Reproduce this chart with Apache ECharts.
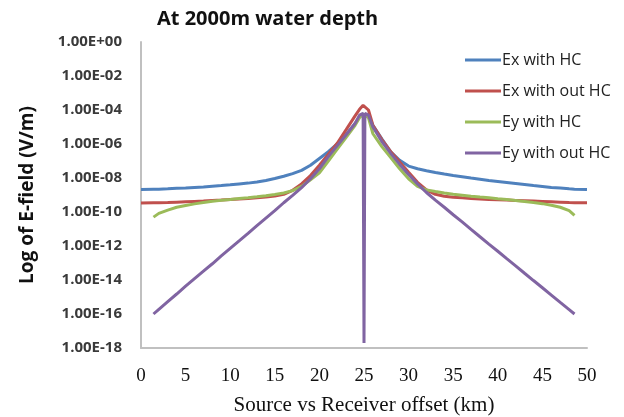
<!DOCTYPE html>
<html>
<head>
<meta charset="utf-8">
<script src="https://cdn.jsdelivr.net/npm/echarts@6/dist/echarts.min.js"></script>
<style>
html,body{margin:0;padding:0;background:#fff;}
#chart{width:624px;height:417px;}
</style>
</head>
<body>
<div id="chart"></div>
<script>
// offsets (km) shared by all series
var offsets = [0, 1.4, 2, 3, 4, 5, 6, 7, 8, 9, 10, 11, 12, 13, 14, 15, 16, 17, 18, 19, 20, 21, 22, 23, 24,
	24.5, 24.9, 25, 25.1, 25.5,
	26, 27, 28, 29, 30, 31, 32, 33, 34, 35, 36, 37, 38, 39, 40, 41, 42, 43, 44, 45, 46, 47, 48, 48.6, 50];

var exWithHC = [2.1e-9, 2.2e-9, 2.2e-9, 2.3e-9, 2.5e-9, 2.6e-9, 2.8e-9, 3.0e-9, 3.3e-9, 3.6e-9, 4.0e-9, 4.5e-9, 5.0e-9, 5.9e-9, 7.2e-9, 9.3e-9, 1.26e-8, 1.8e-8, 2.8e-8, 5.6e-8, 1.4e-7, 3.5e-7, 1e-6, 3.5e-6, 1.6e-5,
	4e-5, 5.8e-5, 6.3e-5, 5.8e-5, 4e-5,
	1.26e-5, 2e-6, 3.5e-7, 1.1e-7, 5e-8, 3.5e-8, 2.7e-8, 2.1e-8, 1.7e-8, 1.4e-8, 1.2e-8, 1e-8, 8.5e-9, 7.2e-9, 6.3e-9, 5.5e-9, 4.8e-9, 4.2e-9, 3.6e-9, 3.2e-9, 2.8e-9, 2.6e-9, 2.3e-9, 2.2e-9, 2.1e-9];

var exWithoutHC = [3.4e-10, 3.5e-10, 3.5e-10, 3.6e-10, 3.8e-10, 4e-10, 4.2e-10, 4.4e-10, 4.7e-10, 5e-10, 5.4e-10, 5.8e-10, 6.3e-10, 6.9e-10, 7.6e-10, 8.7e-10, 1.1e-9, 1.9e-9, 4.5e-9, 1.4e-8, 5.6e-8, 2.5e-7, 1.1e-6, 7e-6, 4.5e-5,
	1.1e-4, 1.9e-4, 2e-4, 1.9e-4, 1e-4,
	1.26e-5, 1.8e-6, 3.5e-7, 8.9e-8, 2.2e-8, 5.6e-9, 2e-9, 1.1e-9, 8.5e-10, 7.4e-10, 6.8e-10, 6.3e-10, 5.9e-10, 5.5e-10, 5.2e-10, 5e-10, 4.8e-10, 4.6e-10, 4.4e-10, 4.2e-10, 4e-10, 3.8e-10, 3.6e-10, 3.5e-10, 3.5e-10];

var eyWithHC = [null, 5e-11, 8.3e-11, 1.3e-10, 1.9e-10, 2.4e-10, 3e-10, 3.6e-10, 4.3e-10, 4.9e-10, 5.5e-10, 6.2e-10, 6.9e-10, 7.9e-10, 9.1e-10, 1.07e-9, 1.3e-9, 1.8e-9, 3.2e-9, 7.9e-9, 2e-8, 1e-7, 5e-7, 2.5e-6, 1.26e-5,
	3.5e-5, 5.8e-5, 6.3e-5, 5.8e-5, 3.5e-5,
	4e-6, 7e-7, 1.6e-7, 3.5e-8, 8.9e-9, 3.2e-9, 2e-9, 1.6e-9, 1.3e-9, 1.1e-9, 9.8e-10, 8.5e-10, 7.6e-10, 6.8e-10, 6e-10, 5.4e-10, 4.8e-10, 4.2e-10, 3.6e-10, 3.1e-10, 2.5e-10, 1.9e-10, 1.2e-10, 6.3e-11, null];

var eyWithoutHC = [null, 1e-16, 1.9e-16, 5.4e-16, 1.5e-15, 4.3e-15, 1.2e-14, 3.3e-14, 9e-14, 2.6e-13, 7.2e-13, 2e-12, 5.6e-12, 1.6e-11, 4.4e-11, 1.2e-10, 3.5e-10, 9.5e-10, 2.7e-9, 9e-9, 3.5e-8, 1.8e-7, 8e-7, 3.5e-6, 1.6e-5,
	5e-5, 6.3e-5, 2e-18, 6.3e-5, 5e-5,
	1e-5, 1.4e-6, 2.8e-7, 6.3e-8, 1.6e-8, 4.5e-9, 1.4e-9, 5e-10, 1.9e-10, 6.9e-11, 2.6e-11, 9.5e-12, 3.5e-12, 1.3e-12, 4.9e-13, 1.8e-13, 6.8e-14, 2.5e-14, 9.3e-15, 3.5e-15, 1.3e-15, 4.8e-16, 1.8e-16, 1e-16, null];

var seriesNames = ['Ex with HC', 'Ex with out HC', 'Ey with HC', 'Ey with out HC'];
var seriesColors = ['#4F81BD', '#C0504D', '#9BBB59', '#8064A2'];

function pairs(vals){
	var out = [];
	for (var i = 0; i < offsets.length; i++) {
		if (vals[i] != null) out.push([offsets[i], vals[i]]);
	}
	return out;
}

function sciLabel(v){
	var e = Math.round(Math.log10(v));
	var s = e < 0 ? '-' : '+';
	var a = Math.abs(e);
	return '1.00E' + s + (a < 10 ? '0' + a : '' + a);
}

window.onload = () => {
	var myChart = echarts.init(document.getElementById('chart'), null, {renderer: 'canvas'});

	var allVals = [exWithHC, exWithoutHC, eyWithHC, eyWithoutHC];
	var series = [];
	for (var i = 0; i < allVals.length; i++) {
		series.push({
			name: seriesNames[i],
			type: 'line',
			data: pairs(allVals[i]),
			showSymbol: false,
			symbol: 'none',
			lineStyle: {width: 3, color: seriesColors[i]},
			itemStyle: {color: seriesColors[i]}
		});
	}

	var option = {
		animation: false,
		backgroundColor: '#fff',
		title: {
			text: 'At 2000m water depth',
			left: 152,
			top: 4,
			textStyle: {fontFamily: 'Open Sans', fontWeight: 'bold', fontSize: 20, color: '#111'}
		},
		legend: {
			orient: 'vertical',
			left: 460,
			top: 46,
			itemWidth: 36,
			itemHeight: 3,
			itemGap: 13,
			icon: 'rect',
			data: seriesNames,
			textStyle: {fontFamily: 'Open Sans', fontSize: 16, fontWeight: 500, color: '#222', lineHeight: 18, padding: [0, 0, 0, -4]}
		},
		grid: {left: 141, right: 37, top: 42, bottom: 69, outerBoundsMode: 'none'},
		xAxis: {
			type: 'value',
			min: 0,
			max: 50,
			interval: 5,
			name: 'Source vs Receiver offset (km)',
			nameLocation: 'middle',
			nameGap: 47,
			nameTextStyle: {fontFamily: 'Liberation Serif', fontSize: 21, color: '#111'},
			axisLine: {show: true, lineStyle: {color: '#c0c0c0', width: 2}},
			axisTick: {show: false},
			splitLine: {show: false},
			axisLabel: {fontFamily: 'Liberation Serif', fontSize: 19, color: '#111', margin: 19}
		},
		yAxis: {
			type: 'log',
			logBase: 10,
			min: 1e-18,
			max: 1,
			interval: 2,
			name: 'Log of E-field (V/m)',
			nameLocation: 'middle',
			nameRotate: 90,
			nameGap: 104,
			nameTextStyle: {fontFamily: 'Open Sans', fontWeight: 'bold', fontSize: 19, color: '#111'},
			axisLine: {show: true, lineStyle: {color: '#c0c0c0', width: 2}},
			axisTick: {show: false},
			splitLine: {show: false},
			axisLabel: {
				fontFamily: 'Open Sans', fontWeight: 'bold', fontSize: 15, color: '#3a3a3a', margin: 19,
				formatter: sciLabel
			}
		},
		series: series
	};

	myChart.setOption(option);
};
</script>
</body>
</html>
